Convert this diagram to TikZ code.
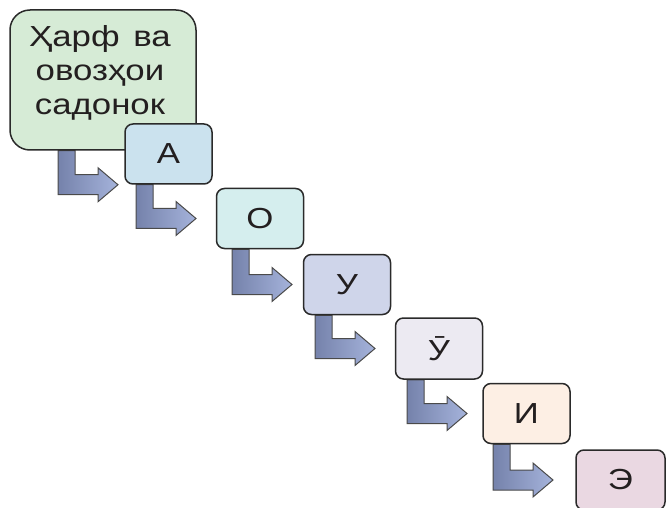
\documentclass[tikz,border=0pt]{standalone}
\usepackage{fontspec}
\setmainfont[FakeStretch=1.2]{Liberation Sans}
\usetikzlibrary{calc,backgrounds}
\definecolor{txt}{HTML}{231F20}
\definecolor{edge}{HTML}{2A2A2A}
\definecolor{cH}{HTML}{D6EBD6}
\definecolor{cA}{HTML}{CBE2EE}
\definecolor{cO}{HTML}{D5EEEE}
\definecolor{cU}{HTML}{CFD5EA}
\definecolor{cUU}{HTML}{ECEAF2}
\definecolor{cI}{HTML}{FDEFE4}
\definecolor{cE}{HTML}{EAD8E2}
\definecolor{arL}{HTML}{7582AB}
\definecolor{arR}{HTML}{A5B3DB}
\definecolor{arE}{HTML}{4A4A4A}
\tikzset{
  letterbox/.style={draw=edge, line width=1.5pt, rounded corners=8pt,
    minimum width=87pt, minimum height=60pt, inner sep=0pt,
    text=txt, font=\fontsize{29}{34}\selectfont},
  bigbox/.style={draw=edge, line width=1.5pt, rounded corners=20pt,
    minimum width=186pt, minimum height=140pt, inner sep=0pt, fill=cH},
  bigtext/.style={text=txt, align=center, inner sep=0pt,
    font=\fontsize{29}{34}\selectfont},
  arrowfill/.style={draw=arE, line width=1pt, line join=miter,
    left color=arL, right color=arR}
}
\newcommand\bentarrow[3]{%
  \path[arrowfill] let \p1=(#1.south), \p2=(#3) in
    (#2pt,\y1) -- (#2pt+17pt,\y1) -- (#2pt+17pt,\y2+10pt)
    -- (#2pt+40pt,\y2+10pt) -- (#2pt+40pt,\y2+17pt) -- (#2pt+60pt,\y2)
    -- (#2pt+40pt,\y2-17pt) -- (#2pt+40pt,\y2-10pt) -- (#2pt,\y2-10pt) -- cycle;}
\begin{document}
\begin{tikzpicture}[x=1pt,y=-1pt]
\useasboundingbox (0,0) rectangle (670,508);
\clip (0,0) rectangle (670,508);
\node[bigbox] (H) at (103,80) {};
\node[bigtext] (Ht) at (100,73) {Ҳарф\hspace{4pt} ва\\овозҳои\\садонок};
\node[letterbox, fill=cA] (A) at (168.5,154) {А};
\node[letterbox, fill=cO] (O) at (260,218.5) {О};
\node[letterbox, fill=cU] (U) at (347,284.5) {У};
\node[letterbox, fill=cUU, minimum height=61pt] (UU) at (439,348.5) {Ӯ};
\node[letterbox, fill=cI] (I) at (526.5,413.5) {И};
\node[letterbox, fill=cE, minimum width=89pt] (E) at (620.5,480) {Э};
\begin{scope}[on background layer]
\bentarrow{H}{58}{A.south west}
\bentarrow{A}{136}{O.west}
\bentarrow{O}{232}{U.west}
\bentarrow{U}{315}{UU.west}
\bentarrow{UU}{407}{I.west}
\bentarrow{I}{493}{E.west}
\end{scope}
\end{tikzpicture}
\end{document}
